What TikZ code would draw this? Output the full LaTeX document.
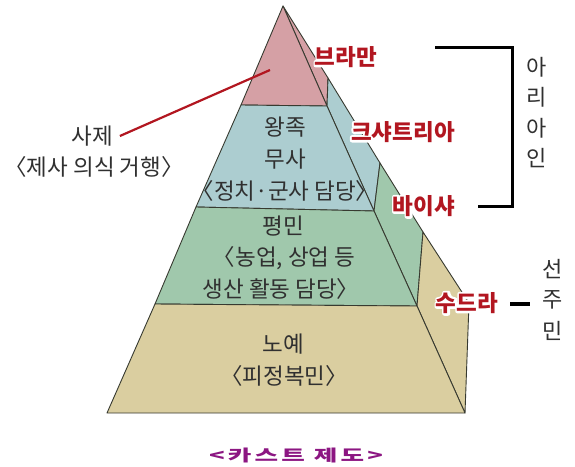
\documentclass[tikz,border=0pt]{standalone}
\usepackage{fontspec}
\setmainfont{Noto Sans CJK KR}
\usetikzlibrary{calc}
\definecolor{pinkc}{RGB}{213,160,165}
\definecolor{bluec}{RGB}{172,205,208}
\definecolor{greenc}{RGB}{160,200,172}
\definecolor{tanc}{RGB}{218,206,160}
\definecolor{edgec}{RGB}{55,58,48}
\definecolor{redtxt}{RGB}{178,22,32}
\definecolor{purpc}{RGB}{140,22,130}
\definecolor{txtc}{RGB}{48,48,48}
\tikzset{
  face/.style={draw=edgec, line width=0.9pt, line join=round},
  tiertxt/.style={text=txtc, font=\fontsize{22.5}{24}\selectfont, inner sep=0pt},
  redlab/.style={text=redtxt, font=\fontsize{22.5}{24}\selectfont\bfseries, inner sep=0pt},
  vertlab/.style={text=txtc, font=\fontsize{22}{24}\selectfont, inner sep=0pt},
  redline/.style={draw=redtxt, line width=2.2pt},
  blackbar/.style={draw=black, line width=3pt},
}
\newcommand\redlabel[4]{%
  \node[redlab] (#1) at (#2,#3) {\special{pdf:literal direct 2 Tr 4.4 w 1 j 1 1 1 RG}#4\special{pdf:literal direct 0 Tr}};
  \node[redlab] at (#1) {#4};}
\begin{document}
\begin{tikzpicture}[x=1pt,y=-1pt]
\useasboundingbox[fill=white] (0,0) rectangle (575,466);
% key points
\coordinate (A) at (283,6);
\coordinate (L1) at (241,105);
\coordinate (L2) at (196,207);
\coordinate (L3) at (155,304);
\coordinate (L4) at (107,413);
\coordinate (F1) at (327,106);
\coordinate (F2) at (374,211);
\coordinate (F3) at (417,306);
\coordinate (F4) at (465,413);
\coordinate (S1) at (328,78);
\coordinate (S2) at (380,163);
\coordinate (S3) at (423,232);
\coordinate (S4) at (469,303);
% side faces
\draw[face, fill=pinkc] (A) -- (S1) -- (F1) -- cycle;
\draw[face, fill=bluec] (F1) -- (S1) -- (S2) -- (F2) -- cycle;
\draw[face, fill=greenc] (F2) -- (S2) -- (S3) -- (F3) -- cycle;
\draw[face, fill=tanc] (F3) -- (S3) -- (S4) -- (F4) -- cycle;
% front faces
\draw[face, fill=pinkc] (A) -- (L1) -- (F1) -- cycle;
\draw[face, fill=bluec] (L1) -- (L2) -- (F2) -- (F1) -- cycle;
\draw[face, fill=greenc] (L2) -- (L3) -- (F3) -- (F2) -- cycle;
\draw[face, fill=tanc] (L3) -- (L4) -- (F4) -- (F3) -- cycle;
% tier texts
\node[tiertxt] (t1) at (285,127) {왕족};
\node[tiertxt] (t2) at (285,159) {무사};
\node[tiertxt] (t3) at (285,191) {〈정치·군사 담당〉};
\node[tiertxt] (t4) at (283,226) {평민};
\node[tiertxt] (t5) at (284,258) {〈농업, 상업 등};
\node[tiertxt] (t6) at (281,289) {생산 활동 담당〉};
\node[tiertxt] (t7) at (283,344) {노예};
\node[tiertxt] (t8) at (284,376) {〈피정복민〉};
% priest label
\node[tiertxt] (p1) at (92,136) {사제};
\node[tiertxt] (p2) at (94,167) {〈제사 의식 거행〉};
\coordinate (pend) at (270,70);
\path (p1.east) ++(7,0) coordinate (pstart);
\draw[redline] (pstart) -- (pend);
% red caste labels
\redlabel{brahman}{346}{57}{브라만}
\redlabel{ksha}{403}{132}{크샤트리아}
\redlabel{vaishya}{424}{206}{바이샤}
\redlabel{sudra}{467}{303}{수드라}
% bracket
\coordinate (b1) at (435,47);
\coordinate (b2) at (512,47);
\coordinate (b3) at (512,206);
\coordinate (b4) at (478,206);
\draw[blackbar, line join=miter] (b1) -- (b2) -- (b3) -- (b4);
\node[vertlab] (ar1) at (537,67) {아};
\node[vertlab] (ar2) at (537,97) {리};
\node[vertlab] (ar3) at (537,128) {아};
\node[vertlab] (ar4) at (537,158) {인};
% dash
\coordinate (d1) at (510,304);
\coordinate (d2) at (530,304);
\draw[black, line width=4pt] (d1) -- (d2);
\node[vertlab] (n1) at (553,269) {선};
\node[vertlab] (n2) at (553,300) {주};
\node[vertlab] (n3) at (553,331) {민};
% title
\node[text=purpc, inner sep=0pt, font=\fontsize{16}{18}\selectfont\bfseries\addfontfeature{FakeStretch=1.6,LetterSpace=20}] (title) at (296,455) {<카스트 제도>};
\end{tikzpicture}
\end{document}
